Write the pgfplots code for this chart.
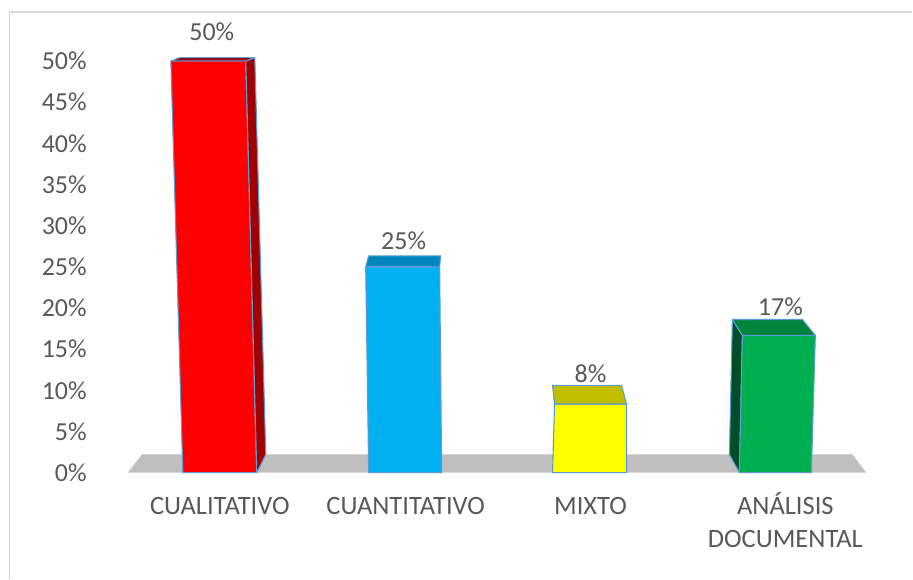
\documentclass[border=0pt]{standalone}
\usepackage{pgfplots}
\pgfplotsset{compat=1.18}
\usepackage{fontspec}
\setmainfont{Carlito}
\definecolor{txt}{HTML}{595959}
\definecolor{frame}{HTML}{D9D9D9}
\definecolor{floor}{HTML}{BFBFBF}
\definecolor{edge}{HTML}{5B9BD5}
\definecolor{redF}{HTML}{FF0000}
\definecolor{redS}{HTML}{A00000}
\definecolor{bluF}{HTML}{00B0F0}
\definecolor{bluT}{HTML}{0086BE}
\definecolor{yelF}{HTML}{FFFF00}
\definecolor{yelT}{HTML}{BFBF00}
\definecolor{grnF}{HTML}{00B050}
\definecolor{grnT}{HTML}{00843D}
\definecolor{grnS}{HTML}{004D26}
\begin{document}
\begin{tikzpicture}[x=1pt,y=1pt]
\path[fill=white] (0,0) rectangle (913,579);
\draw[color=frame, line width=1.5pt] (9.5,0) -- (9.5,567) -- (913,567);
\begin{axis}[
  at={(0pt,106pt)}, anchor=origin,
  scale only axis, width=913pt, height=412pt,
  xmin=0, xmax=913, ymin=0, ymax=50,
  clip=false,
  axis line style={draw=none}, tick style={draw=none},
  major tick length=0pt,
  ytick={0,5,10,15,20,25,30,35,40,45,50},
  yticklabels={0\%,5\%,10\%,15\%,20\%,25\%,30\%,35\%,40\%,45\%,50\%},
  yticklabel style={anchor=east, xshift=87pt, inner xsep=0pt, text=txt, font=\fontsize{26}{31}\selectfont},
  xtick={220,406,591,786},
  xticklabels={{\vphantom{Á}CUALITATIVO},{\vphantom{Á}CUANTITATIVO},{\vphantom{Á}MIXTO},{ANÁLISIS\\[2pt]DOCUMENTAL}},
  xticklabel style={align=center, anchor=north, yshift=-16pt, text=txt, font=\fontsize{26.5}{31}\selectfont},
  every axis plot/.append style={line width=1.1pt, draw=edge, line join=round},
]
% floor
\addplot[fill=floor, draw=none] coordinates {(128,0) (867,0) (853,2.2) (142,2.2)} -- cycle;
% CUALITATIVO 50
\addplot[fill=redF] coordinates {(183,0) (257,0) (246,50) (171,50)} -- cycle;
\addplot[fill=redS] coordinates {(257,0) (266,2.2) (255,50.4) (246,50)} -- cycle;
\addplot[fill=redS] coordinates {(171,50) (246,50) (255,50.4) (180,50.4)} -- cycle;
% CUANTITATIVO 25
\addplot[fill=bluF] coordinates {(369,0) (442,0) (440,25) (366,25)} -- cycle;
\addplot[fill=bluT] coordinates {(366,25) (440,25) (441,26.33) (369,26.33)} -- cycle;
% MIXTO 8.33
\addplot[fill=yelF] coordinates {(553,0) (627,0) (627,8.33) (555,8.33)} -- cycle;
\addplot[fill=yelT] coordinates {(555,8.33) (627,8.33) (622,10.6) (553,10.6)} -- cycle;
% ANALISIS 16.67
\addplot[fill=grnS] coordinates {(740,0) (730,2.2) (733,18.6) (743,16.67)} -- cycle;
\addplot[fill=grnF] coordinates {(740,0) (812,0) (816,16.67) (743,16.67)} -- cycle;
\addplot[fill=grnT] coordinates {(743,16.67) (816,16.67) (803,18.6) (733,18.6)} -- cycle;
% data labels
\begin{scope}[every node/.style={text=txt, font=\fontsize{26}{31}\selectfont, anchor=center}]
\node at (axis cs:212,53.6) {50\%};
\node at (axis cs:404,28.2) {25\%};
\node at (axis cs:591,12.0) {8\%};
\node at (axis cs:781,20.2) {17\%};
\end{scope}
\end{axis}
\end{tikzpicture}
\end{document}
